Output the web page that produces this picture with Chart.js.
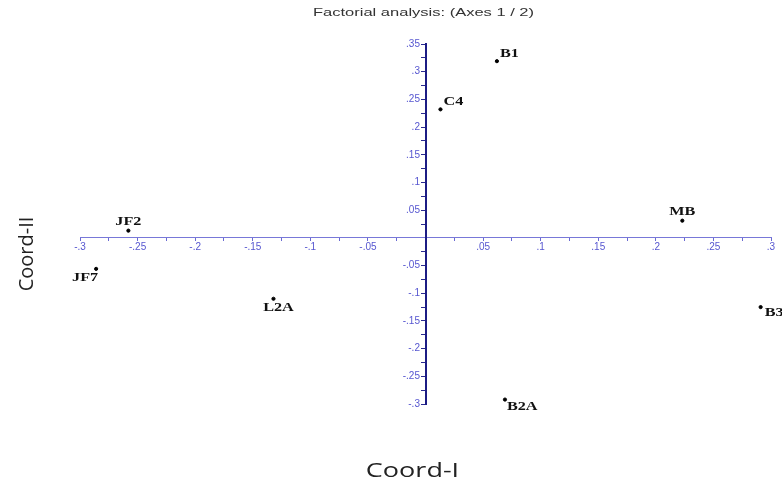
<!DOCTYPE html>
<html><head><meta charset="utf-8">
<script src="https://cdn.jsdelivr.net/npm/chart.js@4/dist/chart.umd.min.js"></script>
<style>html,body{margin:0;padding:0;background:#fff;}#wrap{position:relative;width:782px;height:482px;}</style>
</head><body><div id="wrap"><canvas id="c" width="782" height="482"></canvas></div>
<script>
// ---- data ----
const pointNames = ['B1', 'C4', 'JF2', 'JF7', 'L2A', 'MB', 'B3', 'B2A'];
const coordI  = [0.062, 0.013, -0.258, -0.286, -0.132, 0.223, 0.291, 0.069];
const coordII = [0.319, 0.232, 0.013, -0.056, -0.110, 0.031, -0.125, -0.292];
const xRange = [-0.3, 0.3];
const yRange = [-0.3, 0.35];
const tickStep = 0.025;       // minor ticks
const labelStep = 0.05;       // labelled ticks
const chartTitle = 'Factorial analysis: (Axes 1 / 2)';
const xAxisTitle = 'Coord-I';
const yAxisTitle = 'Coord-II';
// label anchor for each point (style only)
const labelAnchor = ['ne', 'ne', 'n', 'sw', 's', 'n', 'e', 'se'];

function fmtTick(v) {
  const m = Math.round(v * 1000);
  if (m === 0 || m % Math.round(labelStep * 1000) !== 0) return '';
  let s = String(+(m / 1000).toFixed(3));
  s = s.replace('0.', '.');
  return s;
}

const points = coordI.map((x, i) => ({x: x, y: coordII[i]}));

function wideText(ctx, text, x, y, sx) {
  ctx.save();
  ctx.translate(x, y);
  ctx.scale(sx, 1);
  ctx.fillText(text, 0, 0);
  ctx.restore();
}

const pointLabelPlugin = {
  id: 'pointLabels',
  afterDatasetsDraw(chart) {
    const ctx = chart.ctx;
    const meta = chart.getDatasetMeta(0);
    ctx.save();
    ctx.font = 'bold 12px "Liberation Serif", "DejaVu Serif", serif';
    ctx.fillStyle = '#111';
    ctx.textBaseline = 'alphabetic';
    meta.data.forEach((el, i) => {
      const a = labelAnchor[i];
      let dx = 0, dy = 0, align = 'left';
      if (a === 'ne') { dx = 3; dy = -4; align = 'left'; }
      else if (a === 'n') { dx = 0; dy = -6; align = 'center'; }
      else if (a === 'sw') { dx = 2; dy = 12; align = 'right'; }
      else if (a === 's') { dx = 5; dy = 12; align = 'center'; }
      else if (a === 'e') { dx = 4; dy = 9; align = 'left'; }
      else if (a === 'se') { dx = 2; dy = 10; align = 'left'; }
      ctx.textAlign = align;
      wideText(ctx, pointNames[i], el.x + dx, el.y + dy, 1.35);
    });
    ctx.restore();
  }
};

const outerTitlePlugin = {
  id: 'outerTitles',
  afterDraw(chart) {
    const ctx = chart.ctx;
    const ca = chart.chartArea;
    ctx.save();
    // chart title
    ctx.font = '11px "Liberation Sans", Arial, sans-serif';
    ctx.fillStyle = '#333';
    ctx.textAlign = 'center';
    ctx.textBaseline = 'middle';
    wideText(ctx, chartTitle, (ca.left + ca.right) / 2 - 2, 13, 1.5);
    // axis titles
    ctx.font = '20px "Open Sans", "Noto Sans", sans-serif';
    ctx.fillStyle = '#222';
    ctx.textBaseline = 'alphabetic';
    wideText(ctx, xAxisTitle, (ca.left + ca.right) / 2 - 13, chart.height - 5, 1.35);
    ctx.translate(33, (ca.top + ca.bottom) / 2 + 30);
    ctx.rotate(-Math.PI / 2);
    ctx.fillText(yAxisTitle, 0, 0);
    ctx.restore();
  }
};

const tickColor = '#5656d0';
const tickFont = { family: '"Liberation Sans", Arial, sans-serif', size: 10 };

new Chart(document.getElementById('c'), {
  type: 'scatter',
  data: {
    datasets: [{
      data: points,
      backgroundColor: '#000',
      borderColor: '#000',
      pointRadius: 1.6,
      pointHoverRadius: 1.6,
      clip: false
    }]
  },
  options: {
    responsive: false,
    animation: false,
    devicePixelRatio: 1,
    events: [],
    layout: { padding: { left: 80, right: 11, top: 44, bottom: 78 } },
    plugins: {
      legend: { display: false },
      tooltip: { enabled: false },
      title: { display: false }
    },
    scales: {
      x: {
        type: 'linear',
        min: xRange[0], max: xRange[1],
        position: { y: 0 },
        grid: { drawOnChartArea: false, drawTicks: true, tickLength: 3, color: '#6a6ad2', tickWidth: 1 },
        border: { display: true, color: '#7878d8', width: 1 },
        ticks: {
          stepSize: tickStep, autoSkip: false, maxRotation: 0, minRotation: 0,
          color: tickColor, padding: 0, font: tickFont,
          callback: (v) => fmtTick(v)
        }
      },
      y: {
        type: 'linear',
        min: yRange[0], max: yRange[1],
        position: { x: 0 },
        grid: { drawOnChartArea: false, drawTicks: true, tickLength: 4, color: '#2a2a90', tickWidth: 1 },
        border: { display: true, color: '#1c1c84', width: 2 },
        ticks: {
          stepSize: tickStep, autoSkip: false,
          color: tickColor, padding: 1, font: tickFont,
          callback: (v) => { const s = fmtTick(v); return s ? s + '  ' : ''; }
        }
      }
    }
  },
  plugins: [pointLabelPlugin, outerTitlePlugin]
});
</script>
</body></html>
